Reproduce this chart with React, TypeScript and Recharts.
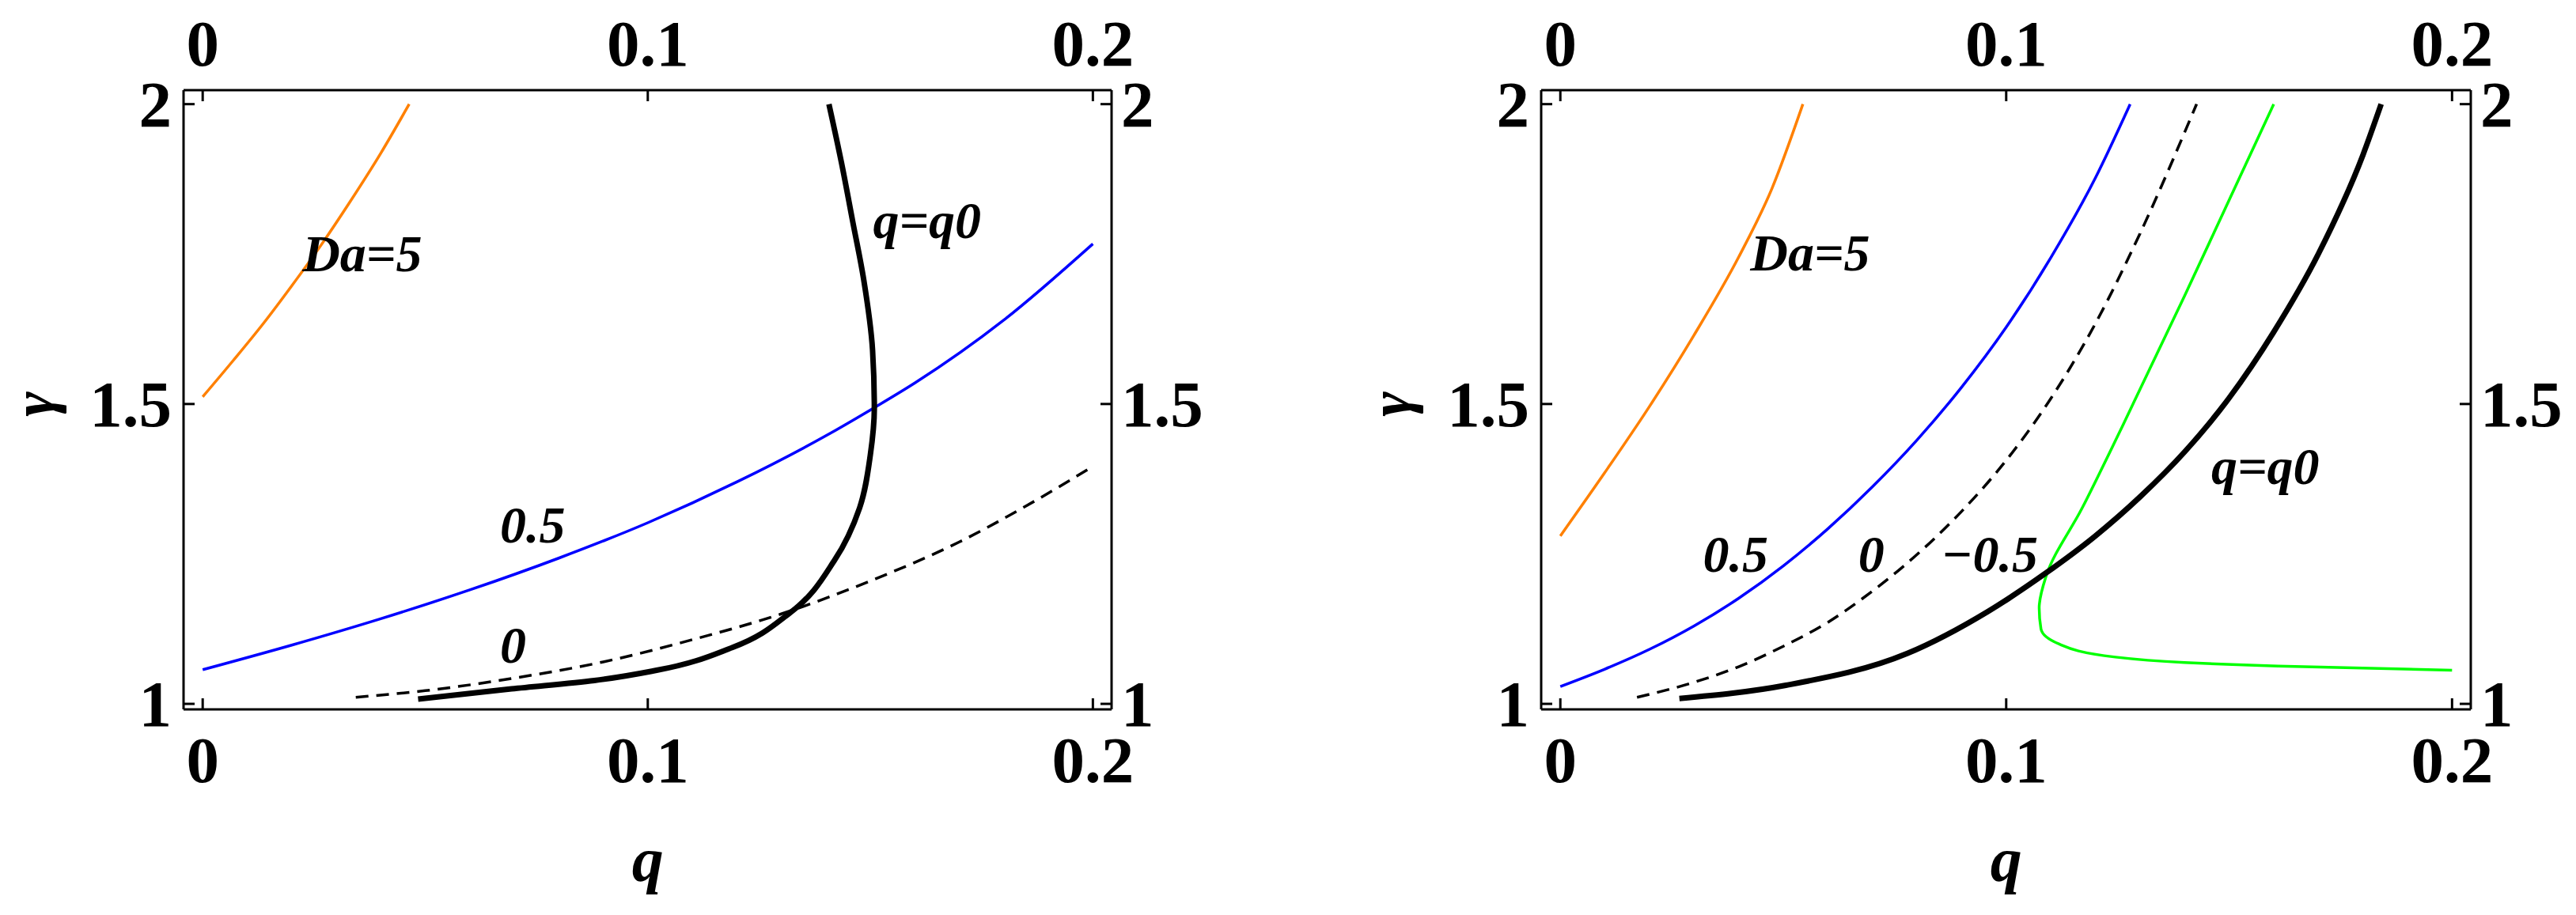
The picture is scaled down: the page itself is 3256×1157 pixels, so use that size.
import React from 'react';
import { LineChart, Line, XAxis, YAxis, ReferenceDot } from 'recharts';

// ---------- tick values / labels ----------
const xTicks = [0, 0.1, 0.2];
const xTickLabels = ['0', '0.1', '0.2'];
const yTicks = [1, 1.5, 2];
const yTickLabels = ['1', '1.5', '2'];

// ---------- left panel curves (q, gamma) ----------
const leftDa5 = [
  { q: 0, g: 1.512 }, { q: 0.0068, g: 1.572 }, { q: 0.0136, g: 1.634 }, { q: 0.02, g: 1.697 },
  { q: 0.0267, g: 1.766 }, { q: 0.033, g: 1.836 }, { q: 0.04, g: 1.918 }, { q: 0.0464, g: 2.0 },
];
const leftDa05 = [
  { q: 0, g: 1.057 }, { q: 0.02, g: 1.098 }, { q: 0.04, g: 1.142 }, { q: 0.06, g: 1.19 },
  { q: 0.08, g: 1.243 }, { q: 0.1, g: 1.302 }, { q: 0.12, g: 1.37 }, { q: 0.14, g: 1.447 },
  { q: 0.15, g: 1.49 }, { q: 0.16, g: 1.535 }, { q: 0.18, g: 1.64 }, { q: 0.2, g: 1.767 },
];
const leftDa0 = [
  { q: 0.0344, g: 1.011 }, { q: 0.05, g: 1.022 }, { q: 0.07, g: 1.043 }, { q: 0.09, g: 1.07 },
  { q: 0.11, g: 1.107 }, { q: 0.13, g: 1.15 }, { q: 0.15, g: 1.205 }, { q: 0.17, g: 1.27 },
  { q: 0.185, g: 1.33 }, { q: 0.2, g: 1.396 },
];
const leftQ0 = [
  { q: 0.0484, g: 1.008 }, { q: 0.0694, g: 1.025 }, { q: 0.088, g: 1.039 }, { q: 0.102, g: 1.056 },
  { q: 0.119, g: 1.094 }, { q: 0.132, g: 1.152 }, { q: 0.142, g: 1.24 }, { q: 0.1476, g: 1.327 },
  { q: 0.15, g: 1.415 }, { q: 0.1509, g: 1.493 }, { q: 0.1505, g: 1.59 }, { q: 0.1485, g: 1.708 },
  { q: 0.146, g: 1.806 }, { q: 0.1435, g: 1.903 }, { q: 0.1407, g: 2.0 },
];

// ---------- right panel curves ----------
const rightDa5 = [
  { q: 0, g: 1.28 }, { q: 0.01, g: 1.386 }, { q: 0.02, g: 1.496 }, { q: 0.03, g: 1.615 },
  { q: 0.04, g: 1.745 }, { q: 0.0475, g: 1.86 }, { q: 0.0544, g: 2.0 },
];
const rightDa05 = [
  { q: 0, g: 1.029 }, { q: 0.01, g: 1.058 }, { q: 0.02, g: 1.091 }, { q: 0.03, g: 1.13 },
  { q: 0.04, g: 1.176 }, { q: 0.05, g: 1.23 }, { q: 0.06, g: 1.292 }, { q: 0.07, g: 1.362 },
  { q: 0.08, g: 1.44 }, { q: 0.09, g: 1.528 }, { q: 0.1, g: 1.628 }, { q: 0.11, g: 1.744 },
  { q: 0.12, g: 1.877 }, { q: 0.1278, g: 2.0 },
];
const rightDa0 = [
  { q: 0.0172, g: 1.011 }, { q: 0.03, g: 1.036 }, { q: 0.04, g: 1.062 }, { q: 0.05, g: 1.096 },
  { q: 0.06, g: 1.136 }, { q: 0.07, g: 1.188 }, { q: 0.0769, g: 1.229 }, { q: 0.09, g: 1.321 },
  { q: 0.1, g: 1.406 }, { q: 0.11, g: 1.509 }, { q: 0.12, g: 1.634 }, { q: 0.13, g: 1.784 },
  { q: 0.1427, g: 2.0 },
];
// ordered by increasing gamma (lower branch first)
const rightDaNeg05 = [
  { q: 0.2, g: 1.056 }, { q: 0.161, g: 1.063 }, { q: 0.14, g: 1.069 }, { q: 0.1245, g: 1.078 },
  { q: 0.1118, g: 1.1 }, { q: 0.1078, g: 1.125 }, { q: 0.1074, g: 1.16 }, { q: 0.109, g: 1.214 },
  { q: 0.117, g: 1.326 }, { q: 0.126, g: 1.462 }, { q: 0.14, g: 1.68 }, { q: 0.15, g: 1.84 },
  { q: 0.16, g: 2.0 },
];
const rightQ0 = [
  { q: 0.0267, g: 1.009 }, { q: 0.0506, g: 1.031 }, { q: 0.0778, g: 1.084 }, { q: 0.0959, g: 1.154 },
  { q: 0.1085, g: 1.216 }, { q: 0.12, g: 1.28 }, { q: 0.13, g: 1.345 }, { q: 0.14, g: 1.42 },
  { q: 0.15, g: 1.51 }, { q: 0.16, g: 1.62 }, { q: 0.17, g: 1.75 }, { q: 0.18, g: 1.915 },
  { q: 0.1841, g: 2.0 },
];

// ---------- curve annotations ----------
const leftNotes = [
  { text: 'Da=5', q: 0.0224, g: 1.721 },
  { text: 'q=q0', q: 0.1506, g: 1.777 },
  { text: '0.5', q: 0.0668, g: 1.269 },
  { text: '0', q: 0.0668, g: 1.0686 },
];
const rightNotes = [
  { text: 'Da=5', q: 0.0426, g: 1.722 },
  { text: 'q=q0', q: 0.146, g: 1.366 },
  { text: '0.5', q: 0.032, g: 1.2196 },
  { text: '0', q: 0.0668, g: 1.2196 },
  { text: '\u22120.5', q: 0.0854, g: 1.2196 },
];

const xTitle = 'q';
const yTitle = '\u03B3';

const FONT = '"Liberation Serif", "Times New Roman", serif';
const TICK_FS = 83;
const NOTE_FS = 66;
const TITLE_FS = 80;
const TICK_LEN = 14;
const X_DOMAIN = [-0.0043, 0.2042];
const Y_DOMAIN = [0.9908, 2.0233];

const labelFor = (vals: number[], labels: string[], v: number) => {
  const i = vals.findIndex((t) => Math.abs(t - v) < 1e-9);
  return i >= 0 ? labels[i] : String(v);
};

const XTick = (props: any) => {
  const { x, y, payload, side } = props;
  const dir = side === 'bottom' ? -1 : 1;
  return (
    <g>
      <line x1={x} y1={y} x2={x} y2={y + dir * TICK_LEN} stroke="#000" strokeWidth={3} />
      <text
        x={x}
        y={side === 'bottom' ? y + 92 : y - 31}
        textAnchor="middle"
        fontFamily={FONT}
        fontWeight="bold"
        fontSize={TICK_FS}
        fill="#000"
        stroke="none"
      >
        {labelFor(xTicks, xTickLabels, payload.value)}
      </text>
    </g>
  );
};

const YTick = (props: any) => {
  const { x, y, payload, side } = props;
  const dir = side === 'left' ? 1 : -1;
  return (
    <g>
      <line x1={x} y1={y} x2={x + dir * TICK_LEN} y2={y} stroke="#000" strokeWidth={3} />
      <text
        x={side === 'left' ? x - 15 : x + 12}
        y={y + 28}
        textAnchor={side === 'left' ? 'end' : 'start'}
        fontFamily={FONT}
        fontWeight="bold"
        fontSize={TICK_FS}
        fill="#000"
        stroke="none"
      >
        {labelFor(yTicks, yTickLabels, payload.value)}
      </text>
    </g>
  );
};

type Series = { data: { q: number; g: number }[]; color: string; width: number; dash?: string; curve: string };

const axisLineStyle = { stroke: '#000', strokeWidth: 3 };

const Panel = ({ series, notes, margin }: { series: Series[]; notes: typeof leftNotes; margin: any }) => (
  <LineChart width={1628} height={1157} margin={margin}>
    <XAxis
      xAxisId="b"
      dataKey="q"
      type="number"
      orientation="bottom"
      domain={X_DOMAIN}
      allowDataOverflow
      ticks={xTicks}
      interval={0}
      height={1}
      tickSize={0}
      tickMargin={0}
      tickLine={false}
      axisLine={axisLineStyle}
      tick={(p: any) => <XTick {...p} side="bottom" />}
    />
    <XAxis
      xAxisId="t"
      dataKey="q"
      type="number"
      orientation="top"
      domain={X_DOMAIN}
      allowDataOverflow
      ticks={xTicks}
      interval={0}
      height={1}
      tickSize={0}
      tickMargin={0}
      tickLine={false}
      axisLine={axisLineStyle}
      tick={(p: any) => <XTick {...p} side="top" />}
    />
    <YAxis
      yAxisId="l"
      type="number"
      orientation="left"
      domain={Y_DOMAIN}
      allowDataOverflow
      ticks={yTicks}
      interval={0}
      width={1}
      tickSize={0}
      tickMargin={0}
      tickLine={false}
      axisLine={axisLineStyle}
      tick={(p: any) => <YTick {...p} side="left" />}
    />
    <YAxis
      yAxisId="r"
      type="number"
      orientation="right"
      domain={Y_DOMAIN}
      allowDataOverflow
      ticks={yTicks}
      interval={0}
      width={1}
      tickSize={0}
      tickMargin={0}
      tickLine={false}
      axisLine={axisLineStyle}
      tick={(p: any) => <YTick {...p} side="right" />}
    />
    {series.map((s, i) => (
      <Line
        key={i}
        xAxisId="b"
        yAxisId="l"
        data={s.data}
        dataKey="g"
        type={s.curve as any}
        stroke={s.color}
        strokeWidth={s.width}
        strokeDasharray={s.dash}
        dot={false}
        activeDot={false}
        isAnimationActive={false}
      />
    ))}
    {notes.map((n, i) => (
      <ReferenceDot
        key={'n' + i}
        xAxisId="b"
        yAxisId="l"
        x={n.q}
        y={n.g}
        r={0}
        ifOverflow="visible"
        shape={(p: any) => (
          <text
            x={p.cx}
            y={p.cy}
            fontFamily={FONT}
            fontWeight="bold"
            fontStyle="italic"
            fontSize={NOTE_FS}
            fill="#000"
          >
            {n.text}
          </text>
        )}
      />
    ))}
    <ReferenceDot
      xAxisId="b"
      yAxisId="l"
      x={0.1}
      y={0.705}
      r={0}
      ifOverflow="visible"
      shape={(p: any) => (
        <text x={p.cx} y={p.cy} textAnchor="middle" fontFamily={FONT} fontWeight="bold" fontStyle="italic" fontSize={TITLE_FS} fill="#000">
          {xTitle}
        </text>
      )}
    />
    <ReferenceDot
      xAxisId="b"
      yAxisId="l"
      x={-0.0335}
      y={1.5}
      r={0}
      ifOverflow="visible"
      shape={(p: any) => (
        <text
          x={p.cx}
          y={p.cy}
          textAnchor="middle"
          transform={`rotate(-90 ${p.cx} ${p.cy})`}
          fontFamily={FONT}
          fontWeight="bold"
          fontStyle="italic"
          fontSize={76}
          fill="#000"
        >
          {yTitle}
        </text>
      )}
    />
  </LineChart>
);

const leftSeries: Series[] = [
  { data: leftDa5, color: '#FF8000', width: 3.5, curve: 'monotoneX' },
  { data: leftDa05, color: '#0000FF', width: 3.5, curve: 'monotoneX' },
  { data: leftDa0, color: '#000000', width: 3.5, dash: '16 10', curve: 'monotoneX' },
  { data: leftQ0, color: '#000000', width: 7, curve: 'monotoneY' },
];
const rightSeries: Series[] = [
  { data: rightDa5, color: '#FF8000', width: 3.5, curve: 'monotoneX' },
  { data: rightDa05, color: '#0000FF', width: 3.5, curve: 'monotoneX' },
  { data: rightDa0, color: '#000000', width: 3.5, dash: '16 10', curve: 'monotoneX' },
  { data: rightDaNeg05, color: '#00FF00', width: 3.5, curve: 'monotoneY' },
  { data: rightQ0, color: '#000000', width: 7, curve: 'monotoneX' },
];

export default function App() {
  return (
    <div style={{ position: 'absolute', left: 0, top: 0, width: 3256, height: 1157, background: '#fff' }}>
      <div style={{ position: 'absolute', left: 0, top: 0 }}>
        <Panel series={leftSeries} notes={leftNotes} margin={{ top: 113, right: 222, bottom: 259, left: 231 }} />
      </div>
      <div style={{ position: 'absolute', left: 1628, top: 0 }}>
        <Panel series={rightSeries} notes={rightNotes} margin={{ top: 113, right: 132, bottom: 259, left: 319 }} />
      </div>
    </div>
  );
}
